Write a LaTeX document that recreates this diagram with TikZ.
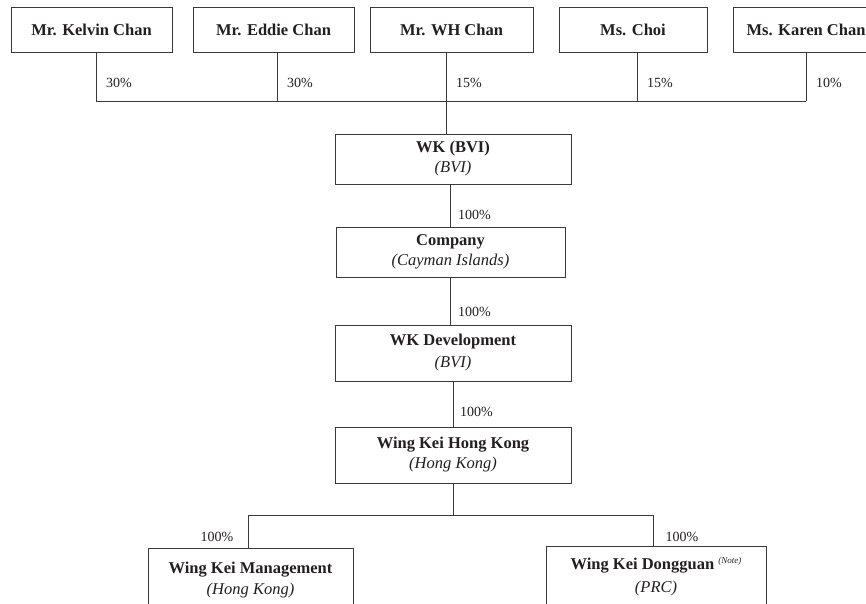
\documentclass[tikz,border=0pt]{standalone}
\usepackage{fontspec}
\setmainfont{Liberation Serif}
\usetikzlibrary{positioning,calc}
\definecolor{inkline}{HTML}{3A3A3A}
\definecolor{inktext}{HTML}{231F20}

\begin{document}
\begin{tikzpicture}[x=1pt,y=-1pt,
    every node/.style={text=inktext},
    entity/.style={draw=inkline,line width=1pt,rectangle,align=center,inner sep=0pt,
        font=\fontsize{16.5}{20}\selectfont},
    share/.style={font=\fontsize{14}{16}\selectfont,inner sep=0pt},
    link/.style={draw=inkline,line width=0.8pt}]
    \useasboundingbox (0,0) rectangle (866,603);
    \clip (0,0) rectangle (866,603);

    % shareholders
    \foreach \nm/\xc/\bw/\txt in {kelvin/91.5/161/Mr. Kelvin Chan,eddie/273.5/161/Mr. Eddie Chan,wh/451.5/163/Mr. WH Chan,choi/633/148/Ms. Choi,karen/806/146/Ms. Karen Chan}
    {%
    \node[entity,minimum width=\bw,minimum height=45] at (\xc,29.5) (\nm) {\textbf{\txt}};
    }%

    % holding line
    \foreach \nm/\bx/\pc in {kelvin/96/30,eddie/277/30,wh/446/15,choi/637/15,karen/806/10}
    {%
    \coordinate (bus\nm) at (\bx,101);
    \draw[link] (\nm.south -| bus\nm) -- (bus\nm);
    \node[share,anchor=west] at (\bx+10,83) (pc\nm) {\pc\%};
    }%
    \draw[link] (buskelvin) -- (buskaren);

    % group chain
    \node[entity,minimum width=236,minimum height=50] at (453,159) (wkbvi)
        {\textbf{WK (BVI)}\\\textit{(BVI)}};
    \node[entity,minimum width=229,minimum height=50] at (450.5,252) (company)
        {\textbf{Company}\\\textit{(Cayman Islands)}};
    \node[entity,minimum width=236,minimum height=56] at (453,353) (wkdev)
        {\textbf{WK Development}\\[2pt]\textit{(BVI)}};
    \node[entity,minimum width=236,minimum height=56] at (453,455) (wkhk)
        {\textbf{Wing Kei Hong Kong}\\\textit{(Hong Kong)}};

    \draw[link] (buswh) -- (buswh |- wkbvi.north);
    \draw[link] (wkbvi.south -| company.north) -- (company.north);
    \node[share,anchor=west] at (458,215) (pcbvi) {100\%};
    \draw[link] (company.south) -- (company.south |- wkdev.north);
    \node[share,anchor=west] at (458,312) (pccompany) {100\%};
    \draw[link] (wkdev.south) -- (wkhk.north);
    \node[share,anchor=west] at (460,412) (pcdev) {100\%};

    % subsidiaries
    \coordinate (busl) at (248,515);
    \coordinate (busr) at (653,515);
    \draw[link] (wkhk.south) -- (wkhk.south |- busl);
    \draw[link] (busl) -- (busr);
    \node[entity,minimum width=205,minimum height=64] at (250.5,580) (wkmgmt)
        {\textbf{Wing Kei Management}\\[1pt]\textit{(Hong Kong)}};
    \node[entity,minimum width=220,minimum height=61] at (656,576.5) (wkdg)
        {\textbf{Wing Kei Dongguan}\ \raisebox{6pt}{\fontsize{9}{10}\selectfont\itshape (Note)}\\[3pt]\textit{(PRC)}};
    \draw[link] (busl) -- (busl |- wkmgmt.north);
    \draw[link] (busr) -- (busr |- wkdg.north);
    \node[share] at (217,537) (pcmgmt) {100\%};
    \node[share] at (682,537) (pcdg) {100\%};
\end{tikzpicture}
\end{document}
